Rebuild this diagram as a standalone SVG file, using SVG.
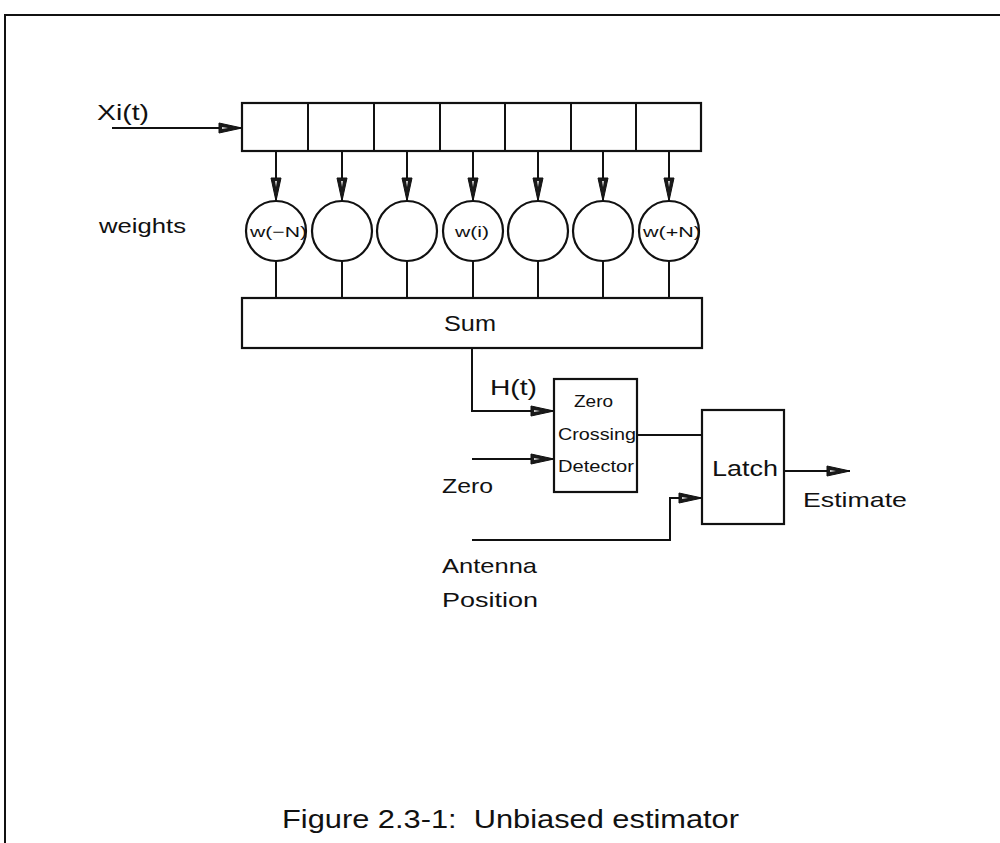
<svg xmlns="http://www.w3.org/2000/svg" width="1000" height="843" viewBox="0 0 1000 843">
<defs>
<style>
.ln{stroke:#111;stroke-width:2;fill:none}
.bx{stroke:#111;stroke-width:2.2;fill:#fff}
.t{font-family:"Liberation Sans",Arial,sans-serif;fill:#111}
</style>
<marker id="ah" viewBox="0 0 24 12" refX="24" refY="6" markerWidth="24" markerHeight="12" markerUnits="userSpaceOnUse" orient="auto">
<path d="M1,1 L24,6 L1,11 Z" fill="#1a1a1a" stroke="#111" stroke-width="1"/>
<path d="M4,5 L10,6 L4,7 Z" fill="#ddd"/>
</marker>
</defs>
<rect width="1000" height="843" fill="#fff"/>
<g id="frame"><path class="ln" d="M5,843 V15 H1000"/></g>

<g id="register">
<rect class="bx" x="242" y="103" width="459" height="48"/>
<path class="ln" d="M308,103 V151 M374,103 V151 M440,103 V151 M505,103 V151 M571,103 V151 M636,103 V151"/>
</g>

<g id="weights">
<circle class="bx" cx="276" cy="231" r="30"/>
<circle class="bx" cx="342" cy="231" r="30"/>
<circle class="bx" cx="407" cy="231" r="30"/>
<circle class="bx" cx="473" cy="231" r="30"/>
<circle class="bx" cx="538" cy="231" r="30"/>
<circle class="bx" cx="603" cy="231" r="30"/>
<circle class="bx" cx="669" cy="231" r="30"/>
<text class="t" x="250" y="237" font-size="15" textLength="57" lengthAdjust="spacingAndGlyphs">w(−N)</text>
<text class="t" x="455" y="237" font-size="15" textLength="34" lengthAdjust="spacingAndGlyphs">w(i)</text>
<text class="t" x="643" y="237" font-size="15" textLength="58" lengthAdjust="spacingAndGlyphs">w(+N)</text>
</g>

<g id="sum">
<rect class="bx" x="242" y="298" width="460" height="50"/>
<text class="t" x="444" y="331" font-size="22" textLength="52" lengthAdjust="spacingAndGlyphs">Sum</text>
</g>

<g id="zcd">
<rect class="bx" x="554" y="379" width="83" height="113"/>
<text class="t" x="574" y="407" font-size="16" textLength="39" lengthAdjust="spacingAndGlyphs">Zero</text>
<text class="t" x="558" y="440" font-size="16" textLength="78" lengthAdjust="spacingAndGlyphs">Crossing</text>
<text class="t" x="558" y="472" font-size="16" textLength="76" lengthAdjust="spacingAndGlyphs">Detector</text>
</g>

<g id="latch">
<rect class="bx" x="702" y="410" width="82" height="114"/>
<text class="t" x="712" y="476" font-size="22" textLength="66" lengthAdjust="spacingAndGlyphs">Latch</text>
</g>

<g id="connectors">
<path class="ln" d="M112,128 H242" marker-end="url(#ah)"/>
<path class="ln" d="M276,151 V201" marker-end="url(#ah)"/>
<path class="ln" d="M342,151 V201" marker-end="url(#ah)"/>
<path class="ln" d="M407,151 V201" marker-end="url(#ah)"/>
<path class="ln" d="M473,151 V201" marker-end="url(#ah)"/>
<path class="ln" d="M538,151 V201" marker-end="url(#ah)"/>
<path class="ln" d="M603,151 V201" marker-end="url(#ah)"/>
<path class="ln" d="M669,151 V201" marker-end="url(#ah)"/>
<path class="ln" d="M276,261 V298 M342,261 V298 M407,261 V298 M473,261 V298 M538,261 V298 M603,261 V298 M669,261 V298"/>
<path class="ln" d="M472,348 V411 H554" marker-end="url(#ah)"/>
<path class="ln" d="M472,459 H554" marker-end="url(#ah)"/>
<path class="ln" d="M637,435 H702"/>
<path class="ln" d="M472,540 H670 V498 H702" marker-end="url(#ah)"/>
<path class="ln" d="M784,471 H850" marker-end="url(#ah)"/>
</g>

<g id="labels">
<text class="t" x="97" y="120" font-size="22" textLength="52" lengthAdjust="spacingAndGlyphs">Xi(t)</text>
<text class="t" x="99" y="233" font-size="21" textLength="87" lengthAdjust="spacingAndGlyphs">weights</text>
<text class="t" x="490" y="395" font-size="22" textLength="47" lengthAdjust="spacingAndGlyphs">H(t)</text>
<text class="t" x="442" y="493" font-size="21" textLength="51" lengthAdjust="spacingAndGlyphs">Zero</text>
<text class="t" x="442" y="573" font-size="21" textLength="95" lengthAdjust="spacingAndGlyphs">Antenna</text>
<text class="t" x="442" y="607" font-size="21" textLength="96" lengthAdjust="spacingAndGlyphs">Position</text>
<text class="t" x="803" y="507" font-size="21" textLength="104" lengthAdjust="spacingAndGlyphs">Estimate</text>
<text class="t" x="282" y="828" font-size="25" textLength="457" lengthAdjust="spacingAndGlyphs" xml:space="preserve">Figure 2.3-1:  Unbiased estimator</text>
</g>
</svg>
